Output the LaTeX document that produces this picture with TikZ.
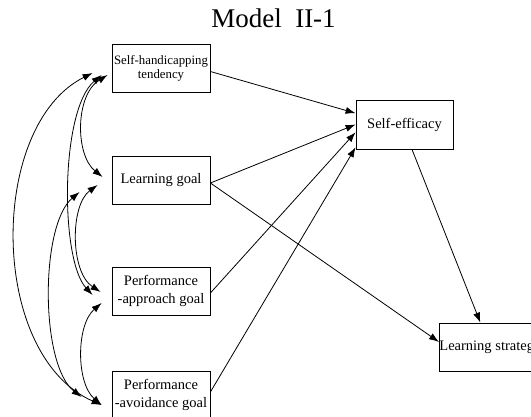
\documentclass[tikz,border=0pt]{standalone}
\usepackage{fontspec}
\setmainfont{Liberation Serif}
\usetikzlibrary{arrows.meta}

\begin{document}
\begin{tikzpicture}[>={Latex[length=10pt,width=7pt]}, x=1pt, y=-1pt, line width=.8pt,
        box/.style={draw, minimum width=98pt, minimum height=48pt, inner sep=0pt, align=center, font=\fontsize{14.5}{18}\selectfont}]
        \useasboundingbox (0,0) rectangle (531,417);
        \node[anchor=base, font=\fontsize{27}{30}\selectfont] (title) at (273.5,28) {Model~~II-1};

        \node[box, font=\fontsize{12.8}{14}\selectfont] (sh) at (161,68.5) {Self-handicapping\\tendency};
        \node[box] (lg) at (161,180) {Learning goal};
        \node[box] (pap) at (161,291) {Performance\\-approach goal};
        \node[box] (pav) at (161,395) {Performance\\-avoidance goal};
        \node[box, minimum width=97pt, minimum height=49pt] (se) at (404.5,124.5) {Self-efficacy};
        \node[box, anchor=west, minimum width=100pt] (ls) at (439,347) {Learning strategy};

        \draw[->]([yshift=-3pt]sh.east)--(se.167);
        \draw[->]([yshift=-3pt]lg.east)--(se.180);
        \draw[->]([yshift=-3pt]lg.east)--([yshift=5pt]ls.west);
        \draw[->]([yshift=-2pt]pap.east)--(se.189);
        \draw[->]([yshift=3pt]pav.east)--(se.205);
        \draw[->]([xshift=7.5pt]se.south)--([xshift=-10pt]ls.north);

        \draw[<->]([shift={(-4,6.5)}]sh.west) .. controls (75,95) and (75,155) .. ([shift={(-9,-3)}]lg.west);
        \draw[<->]([shift={(-10,6.5)}]sh.west) .. controls (60,110) and (60,260) .. ([shift={(-19,4)}]pap.west);
        \draw[<->]([shift={(-19,4.5)}]sh.west) .. controls (-12,125) and (-12,355) .. ([shift={(-10,10)}]pav.west);
        \draw[<->]([shift={(-14,5)}]lg.west) .. controls (70,205) and (70,272) .. ([shift={(-11,1)}]pap.west);
        \draw[<->]([shift={(-32,12)}]lg.west) .. controls (40,225) and (40,365) .. ([shift={(-30,2)}]pav.west);
        \draw[<->]([shift={(-10,12)}]pap.west) .. controls (76,325) and (76,383) .. ([shift={(-10,10)}]pav.west);
    \end{tikzpicture}
\end{document}
